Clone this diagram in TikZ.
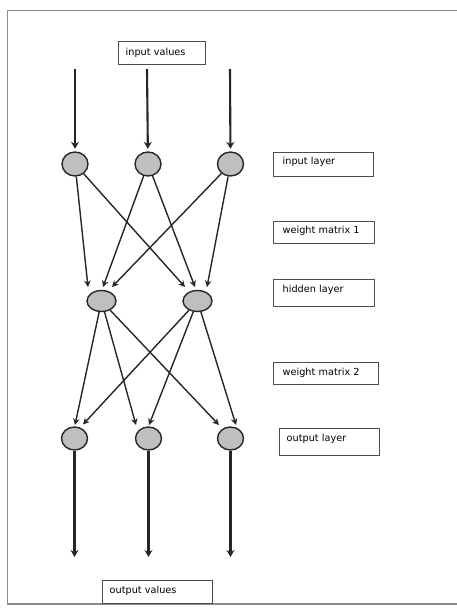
\documentclass[tikz,border=0pt]{standalone}
\usepackage{fontspec}
\setmainfont{DejaVu Sans}
\usetikzlibrary{arrows.meta,shapes.geometric,calc}
\begin{document}
\begin{tikzpicture}[x=1pt,y=-1pt,
  lbl/.style={draw=black!70, line width=1.4pt, fill=white, inner xsep=9pt, inner ysep=0pt,
    anchor=north west, align=left, font=\fontsize{9.7}{11}\selectfont},
  neuron/.style={ellipse, draw=black!85, line width=1.4pt, fill=black!25, inner sep=0pt,
    minimum width=26pt, minimum height=24pt},
  hneuron/.style={neuron, minimum width=29pt, minimum height=21pt},
  feed/.style={line width=2.1pt, draw=black!85, -{Stealth[length=7pt,width=8pt]}},
  wire/.style={line width=1.4pt, draw=black!85, -{Stealth[length=6.5pt,width=6.5pt]}},
]
\useasboundingbox (0,0) rectangle (456,610);
\draw[black!45, line width=1.5pt] (470,10.5) -- (7.5,10.5) -- (7.5,604) -- (470,604);

% neurons
\node[neuron] (i1) at (75,164) {};
\node[neuron] (i2) at (148,164) {};
\node[neuron] (i3) at (230.5,164) {};
\node[hneuron] (h1) at (101.5,301) {};
\node[hneuron] (h2) at (197.5,301) {};
\node[neuron, minimum height=23pt] (o1) at (74.5,438.5) {};
\node[neuron, minimum height=23pt] (o2) at (148.5,438.5) {};
\node[neuron, minimum height=23pt] (o3) at (230.5,438.5) {};

% free ends
\coordinate (ti1) at (75,69);
\coordinate (ti2) at (147,69);
\coordinate (ti3) at (230,69);
\coordinate (bo1) at (74.5,557);
\coordinate (bo2) at (148.5,557);
\coordinate (bo3) at (230.5,557);

% arrow targets near hidden nodes
\coordinate (h1a) at ($(h1)+(-13.5,-14)$);
\coordinate (h1b) at ($(h1)+(1.5,-14)$);
\coordinate (h1c) at ($(h1)+(10.5,-14)$);
\coordinate (h2a) at ($(h2)+(-12.5,-14)$);
\coordinate (h2b) at ($(h2)+(-2.5,-14)$);
\coordinate (h2c) at ($(h2)+(9.5,-14)$);
% arrow targets near output nodes
\coordinate (o1a) at ($(o1)+(0.5,-13.5)$);
\coordinate (o1b) at ($(o1)+(8.5,-14)$);
\coordinate (o2a) at ($(o2)+(-12.5,-13.5)$);
\coordinate (o2b) at ($(o2)+(0.5,-13.5)$);
\coordinate (o3a) at ($(o3)+(-11.5,-13.5)$);
\coordinate (o3b) at ($(o3)+(5.5,-13.5)$);

% input / output arrows
\draw[feed, shorten >=2.5pt] (ti1) -- (i1);
\draw[feed, shorten >=2.5pt] (ti2) -- (i2);
\draw[feed, shorten >=2.5pt] (ti3) -- (i3);
\draw[feed] (o1) -- (bo1);
\draw[feed] (o2) -- (bo2);
\draw[feed] (o3) -- (bo3);

% weight matrix 1
\draw[wire] (i1) -- (h1a);
\draw[wire] (i2) -- (h1b);
\draw[wire] (i3) -- (h1c);
\draw[wire] (i1) -- (h2a);
\draw[wire] (i2) -- (h2b);
\draw[wire] (i3) -- (h2c);
% weight matrix 2
\draw[wire] (h1) -- (o1a);
\draw[wire] (h2) -- (o1b);
\draw[wire] (h1) -- (o2a);
\draw[wire] (h2) -- (o2b);
\draw[wire] (h1) -- (o3a);
\draw[wire] (h2) -- (o3b);

% labels
\node[lbl, inner xsep=7pt, text width=73pt, text height=14pt, text depth=9pt] (iv) at (118,41) {input values};
\node[lbl, text width=82pt, text height=12pt, text depth=12pt] (il) at (273,152) {input layer};
\node[lbl, text width=83pt, text height=12pt, text depth=10pt] (wm1) at (273,221) {weight matrix 1};
\node[lbl, text width=83pt, text height=13pt, text depth=14pt] (hl) at (273,279) {hidden layer};
\node[lbl, text width=87pt, text height=13pt, text depth=9pt] (wm2) at (273,362) {weight matrix 2};
\node[lbl, inner xsep=7pt, text width=86pt, text height=13pt, text depth=14pt] (ol) at (279,428) {output layer};
\node[lbl, inner xsep=7pt, text width=96pt, text height=13pt, text depth=10pt] (ov) at (102,580) {output values};
\end{tikzpicture}
\end{document}
